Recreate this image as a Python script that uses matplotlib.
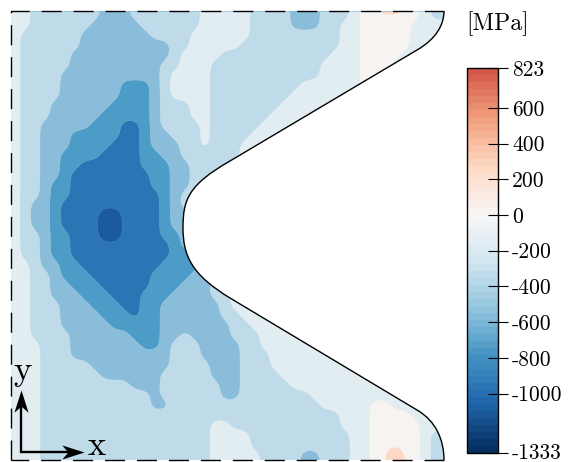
import matplotlib
matplotlib.use("Agg")
import matplotlib.pyplot as plt
import numpy as np
from matplotlib.colors import ListedColormap, Normalize
from matplotlib.patches import PathPatch
from matplotlib.path import Path
from matplotlib.cm import ScalarMappable

plt.rcParams["font.family"] = ["cmr10", "DejaVu Serif"]
plt.rcParams["axes.unicode_minus"] = False

# stress bands, one char per sample (10 px apart), rows top to bottom
band_rows = [
    "555 4444444 333 4444444 55555 4444 333 444 5 667766 5 44",
    "555 4444444 333 4444444 55555 4444 333 444 5 666666 5 44",
    "555 444444 33333 444444 55555 4444 333 44 55 66666 5555",
    "55 444444 3333333 4444 555555 444444444 55 66666 5555",
    "55 444444 333333333 44 55555 4444444444 55 66666 5555",
    "55 44444 3333333333 4 5555 44444444444 555 6666 55555",
    "55 44444 333333333 44 555 44444444444 5555 666 555555",
    "55 4444 3333333333 4 5555 44444444444 5555 66 5555555",
    "55 4444 333333 222 3 4 5555 444444444 555555 66 5555555",
    "55 4444 333333 222 3 4 5555 44444444 5555555555555555",
    "55 444 333333 2222 3 444 55 4444444 55555555555555555",
    "55 444 33333 22222 3 444 55 444444 555555555555555555",
    "55 44 33333 222 11 2 3 4444 5 44444 5555555555555555555",
    "55 44 333 22222 11 2 33 444 5 4444 55555555555555555555",
    "55 44 333 2222 111 2 333 44 5 444 555555555555555555555",
    "55 44 33 2222 1111 22 33 444444 555555555555555555555",
    "55 44 33 22 111111 222 33 4444 5555555555555555555555",
    "55 44 33 2 11111111 22 33 4444 5555555555555555555555",
    "55 44 3 22 11111111 22 33 4444 5555555555555555555555",
    "55 44 3 22 111111111 2 3 44444 5555555555555555555555",
    "55 4 33 2 1111111111 2 3 44444 5555555555555555555555",
    "55 4 33 2 1111 00 1111 2 333 444 5555555555555555555555",
    "55 4 33 2 1111 00 1111 2 333 444 5555555555555555555555",
    "55 44 3 22 111 00 1111 22 33 444 5555555555555555555555",
    "55 44 3 22 1111111111 2 33 444 5555555555555555555555",
    "55 44 3 22 1111111111 22 2 3 44 5555555555555555555555",
    "555 4 33 22 11111111 2222 3 44 5555555555555555555555",
    "555 44 3 222 111111 2222 33 44 5555555555555555555555",
    "555 44 33 222 11111 222 333 44 5555555555555555555555",
    "555 44 333 222 111 222 3333 44 5555555555555555555555",
    "555 444 333 222 11 22 333333 4 5555555555555555555555",
    "555 444 3333 222 1 22 333333 44 555555555555555555555",
    "555 444 33333 22222 3333333 44 55555555555555555555",
    "555 4444 333333 222 33 4 3333 444 5555555555555555555",
    "5555 444 3333333 22 3 444 3333 44 5555555555555555555",
    "5555 444 3333333333 444 3333 444 555555555555555555",
    "5555 44444 33333333 4444 333 444 555555555555555555",
    "5555 444444 333333 44444 333 4444 55555555555555555",
    "5555 444444444 333 444444 33 44444 5555555555555555",
    "5555 44444444444 3 444444 33 4444444 55555555555555",
    "5555 44444444444 33 444444444444444 55555 66 555555",
    "5555 444444444444444444444444444444 555 6666 5555",
    "5555 44444444444444444 55 44444444444 555 66666 555",
    "5555 44444444444444444 5555 4444444444 55 66666 5 44",
    "5555 44444444444444444 5555 4444444444 55 66666 5 44",
    "5555 44444444444444444 55555 4444 33 444 55 66 7 66 5 44",
    "5555 44444444444444444 55555 4444 33 444 55 66 7 66 5 44",
]
band_stress = [-1050, -800, -630, -460, -290, -120, 50, 450]
levels = [-1333, -885, -715, -545, -375, -205, -35, 135, 823]
band_colors = ["#1a5a9e", "#2c75b4", "#4d9bc7", "#8abdda", "#bfdbe9", "#e2edf2", "#f7f3f0", "#fdd9c5"]
cbar_ticks = [823, 600, 400, 200, 0, -200, -400, -600, -800, -1000, -1333]

rows = [r.replace(" ", "") for r in band_rows]
for r in rows:
    assert len(r) == 45, (len(r), r)
stress = np.array([[band_stress[int(c)] for c in r] for r in rows], dtype=float)

xs = 5 + 10 * np.arange(stress.shape[1])
ys = 5 + 10 * np.arange(stress.shape[0])

# go to a 2 px mesh and blur a bit so the band edges are not stair steps
xf = np.arange(xs[0], xs[-1] + 1, 2)
yf = np.arange(ys[0], ys[-1] + 1, 2)
fine = np.array([np.interp(xf, xs, row) for row in stress])
fine = np.array([np.interp(yf, ys, col) for col in fine.T]).T
kernel = np.exp(-0.5 * (np.arange(-6, 7) / 2.5) ** 2)
kernel = kernel / kernel.sum()
padded = np.pad(fine, 6, mode="edge")
padded = np.apply_along_axis(lambda v: np.convolve(v, kernel, mode="same"), 0, padded)
padded = np.apply_along_axis(lambda v: np.convolve(v, kernel, mode="same"), 1, padded)
fine = padded[6:-6, 6:-6]

fig = plt.figure(figsize=(5.69, 4.62), dpi=100)
ax = fig.add_axes([0, 0, 1, 1])
ax.set_xlim(0, 569)
ax.set_ylim(462, 0)
ax.axis("off")

# outline of the specimen
edge_verts = [
    (444, 11), (444, 25), (436, 39), (417, 50),
    (230, 161),
    (188, 185), (183, 200), (183, 228),
    (183, 256), (192, 275), (230, 298),
    (417, 410),
    (436, 421), (444, 440), (444, 460),
]
edge_codes = [Path.MOVETO, Path.CURVE4, Path.CURVE4, Path.CURVE4,
              Path.LINETO,
              Path.CURVE4, Path.CURVE4, Path.CURVE4,
              Path.CURVE4, Path.CURVE4, Path.CURVE4,
              Path.LINETO,
              Path.CURVE4, Path.CURVE4, Path.CURVE4]
clip_path = Path(edge_verts + [(11, 460), (11, 11), (444, 11)],
                 edge_codes + [Path.LINETO, Path.LINETO, Path.CLOSEPOLY])
clip_patch = PathPatch(clip_path, facecolor="none", edgecolor="none", transform=ax.transData)
ax.add_patch(clip_patch)

cs = ax.contourf(xf, yf, fine, levels=levels, colors=band_colors, antialiased=True)
cs.set_edgecolor("face")
cs.set_linewidth(0.3)
cs.set_clip_path(clip_patch)

ax.plot([11, 444], [11, 11], color="#8abdda", lw=0.5)
ax.add_patch(PathPatch(Path(edge_verts, edge_codes), facecolor="none", edgecolor="black", lw=1.0))
ax.plot([11, 11, 444], [460, 11, 11], color="black", lw=1.0, linestyle=(0, (14.4, 8.6)))
ax.plot([444, 11], [460, 460], color="black", lw=1.0, linestyle=(0, (14.4, 8.6)))

# coordinate system
ax.plot([21, 21, 70], [405, 452, 452], color="black", lw=1.7, solid_joinstyle="miter")
ax.plot([84], [452], marker=[(0, 0), (-22, 7), (-16, 0), (-22, -7)], ms=32, color="black", mew=0)
ax.plot([21], [390], marker=[(0, 0), (-7, -22), (0, -16), (7, -22)], ms=32, color="black", mew=0)
ax.text(88, 455, "x", fontsize=25, ha="left", va="baseline")
ax.text(13, 380, "y", fontsize=25, ha="left", va="baseline")
ax.text(466, 24, "[MPa]", fontsize=17, ha="left", va="center")

# colorbar
cax = fig.add_axes([467 / 569, 9 / 462, 31 / 569, 385 / 462])
top = 0.5 + 0.5 * 823 / 1333
cmap = ListedColormap(plt.cm.RdBu_r(np.linspace(0, top, 55)))
sm = ScalarMappable(norm=Normalize(-1333, 823), cmap=cmap)
cb = fig.colorbar(sm, cax=cax)
cb.set_ticks(cbar_ticks)
cb.set_ticklabels([str(t) for t in cbar_ticks])
cb.ax.tick_params(direction="inout", length=13.7, width=0.8, labelsize=15.5, pad=3.2)
cb.outline.set_linewidth(1.0)
# last label sits right at the bottom edge of the figure
cb.ax.get_yticklabels()[-1].set_va("center")

fig.savefig("out.png", dpi=100)
